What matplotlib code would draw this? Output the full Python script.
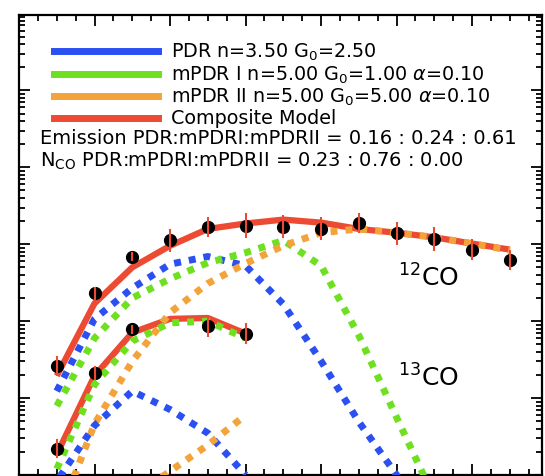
import numpy as np
import matplotlib
matplotlib.use("Agg")
import matplotlib.pyplot as plt
from matplotlib.lines import Line2D

# upper rotational level J
j12 = np.arange(1, 14)
j13 = np.arange(1, 7)
j13_obs = [1, 2, 3, 5, 6]

# observed line intensities and their errors (dex)
co12_obs = [26, 229, 692, 1120, 1660, 1740, 1700, 1580, 1860, 1380, 1170, 850, 630]
co12_err = [0.13, 0.09, 0.06, 0.15, 0.13, 0.16, 0.15, 0.15, 0.13, 0.15, 0.15, 0.14, 0.13]
co13_obs = [2.2, 21, 78, 87, 69]
co13_err = [0.12, 0.09, 0.06, 0.14, 0.14]

# model components, 12CO
co12_pdr = [12.3, 107, 269, 550, 692, 525, 166, 30.2, 4.9, 1.0, 0.16, 0.02, 0.0025]
co12_mpdr1 = [7.9, 60, 200, 355, 575, 776, 1120, 525, 65, 5.6, 0.5, 0.04, 0.003]
co12_mpdr2 = [0.25, 4.6, 30, 129, 309, 562, 955, 1410, 1580, 1410, 1230, 1020, 832]
co12_comp = [19.5, 170, 501, 955, 1580, 1860, 2090, 1910, 1580, 1410, 1230, 1020, 851]

# model components, 13CO
co13_pdr = [0.83, 4.4, 12.3, 7.1, 3.5, 1.0]
co13_mpdr1 = [1.2, 15, 55, 95, 100, 60]
co13_mpdr2 = [0.03, 0.16, 0.5, 1.12, 2.45, 6.0]
co13_comp = [1.86, 19.5, 71, 107, 110, 69]

labels = [r"PDR n=3.50 G$_0$=2.50",
          r"mPDR I n=5.00 G$_0$=1.00 $\alpha$=0.10",
          r"mPDR II n=5.00 G$_0$=5.00 $\alpha$=0.10",
          "Composite Model"]
emission_txt = "Emission PDR:mPDRI:mPDRII = 0.16 : 0.24 : 0.61"
nco_txt = r"N$_{\rm CO}$ PDR:mPDRI:mPDRII = 0.23 : 0.76 : 0.00"

BLUE = "#2b50f2"
GREEN = "#6fe020"
ORANGE = "#f4a23a"
RED = "#ec4a32"

plt.rcParams["font.family"] = ["DejaVu Sans"]
plt.rcParams["mathtext.fontset"] = "dejavusans"

fig = plt.figure(figsize=(5.45, 4.76), dpi=100)
ax = fig.add_axes([19 / 545, 1 / 476, 523 / 545, 460 / 476])

dot = dict(lw=5, linestyle=(0, (1, 1.15)), zorder=3)
for j, comp, pdr, m1, m2 in [(j12, co12_comp, co12_pdr, co12_mpdr1, co12_mpdr2),
                             (j13, co13_comp, co13_pdr, co13_mpdr1, co13_mpdr2)]:
    ax.plot(j, comp, color=RED, lw=4.5, zorder=2, solid_capstyle="butt")
    ax.plot(j, pdr, color=BLUE, **dot)
    ax.plot(j, m1, color=GREEN, **dot)
    ax.plot(j, m2, color=ORANGE, **dot)

for j, obs, err in [(j12, co12_obs, co12_err), (j13_obs, co13_obs, co13_err)]:
    obs = np.array(obs, dtype=float)
    err = np.array(err)
    lo = obs - obs / 10 ** err
    hi = obs * 10 ** err - obs
    ax.plot(j, obs, "o", color="black", ms=8.5, zorder=4)
    ax.errorbar(j, obs, yerr=[lo, hi], fmt="none", ecolor=RED, elinewidth=1.5,
                capsize=0, zorder=5)

ax.set_yscale("log")
ax.set_xlim(0, 13.85)
ax.set_ylim(1, 10 ** 5.98)

ax.set_xticks(np.arange(2, 14, 2))
ax.set_xticks(np.arange(0.5, 14, 0.5), minor=True)
ax.tick_params(which="both", direction="in", top=True, right=True,
               labelbottom=False, labelleft=False, width=1.3, color="black")
ax.tick_params(which="major", length=8)
ax.tick_params(which="minor", length=4)
for s in ax.spines.values():
    s.set_linewidth(1.6)

fs = 13.8
handles = [Line2D([], [], color=c, lw=5) for c in (BLUE, GREEN, ORANGE, RED)]
ax.legend(handles, labels, loc="upper left", bbox_to_anchor=(0.067, 0.941),
          frameon=False, fontsize=fs, handlelength=5.4, handletextpad=0.68,
          labelspacing=0.06, borderpad=0, borderaxespad=0)

ax.text(0.040, (475 - 139) / 460, emission_txt, transform=ax.transAxes,
        fontsize=14.05, va="center", ha="left")
ax.text(0.040, (475 - 161) / 460, nco_txt, transform=ax.transAxes,
        fontsize=14.05, va="center", ha="left")

ax.text(10.04, 10 ** 2.56, r"$^{12}$CO", fontsize=18, va="center", ha="left")
ax.text(10.04, 10 ** 1.26, r"$^{13}$CO", fontsize=18, va="center", ha="left")

fig.savefig("out.png", dpi=100)
